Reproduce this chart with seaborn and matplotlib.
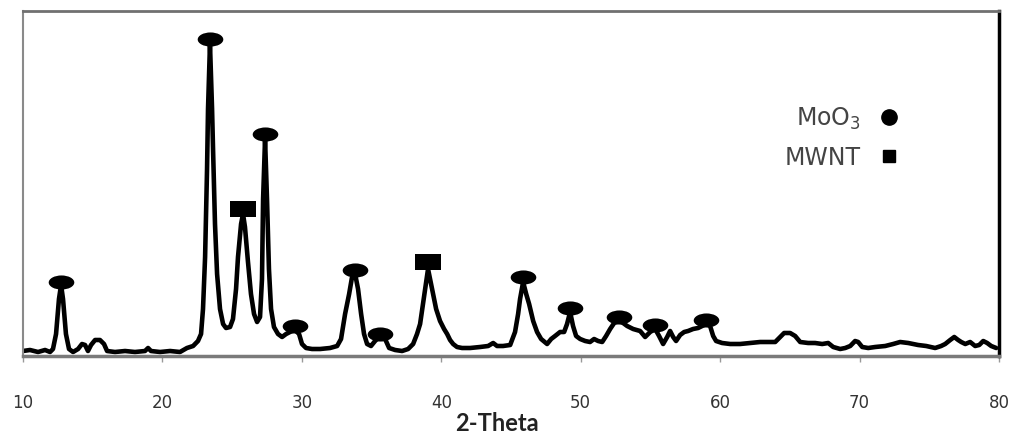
import numpy as np
import matplotlib
matplotlib.use("Agg")
import matplotlib.pyplot as plt
from matplotlib.path import Path
from matplotlib.lines import Line2D
import seaborn as sns

# XRD pattern of the MoO3 / MWNT composite (arbitrary intensity units)
two_theta = [
    10.00, 10.50, 11.08, 11.58, 11.94, 12.15, 12.37, 12.58, 12.73, 12.87,
    13.08, 13.30, 13.59, 13.95, 14.23, 14.45, 14.66, 14.88, 15.17, 15.52,
    15.81, 16.03, 16.60, 17.32, 18.03, 18.75, 18.97, 19.18, 19.83, 20.55,
    21.26, 21.76, 22.20, 22.55, 22.77, 22.91, 23.06, 23.20, 23.27, 23.41,
    23.56, 23.63, 23.77, 23.92, 24.13, 24.35, 24.56, 24.85, 25.06, 25.28,
    25.42, 25.64, 25.78, 25.92, 26.13, 26.35, 26.57, 26.79, 27.00, 27.14,
    27.22, 27.36, 27.50, 27.64, 27.79, 28.00, 28.29, 28.58, 28.87, 29.15,
    29.51, 29.80, 30.01, 30.30, 30.73, 31.31, 32.02, 32.53, 32.81, 33.10,
    33.39, 33.60, 33.82, 34.03, 34.25, 34.46, 34.68, 34.96, 35.25, 35.61,
    35.97, 36.26, 36.69, 37.19, 37.62, 37.98, 38.26, 38.48, 38.69, 38.84,
    39.05, 39.27, 39.41, 39.63, 39.91, 40.20, 40.42, 40.63, 40.85, 41.13,
    41.49, 42.07, 42.78, 43.36, 43.72, 44.00, 44.43, 44.94, 45.29, 45.51,
    45.65, 45.87, 46.09, 46.30, 46.59, 46.87, 47.16, 47.59, 47.88, 48.16,
    48.52, 48.81, 49.02, 49.24, 49.45, 49.67, 49.96, 50.32, 50.67, 50.96,
    51.25, 51.54, 51.82, 52.11, 52.40, 52.75, 53.04, 53.33, 53.76, 54.26,
    54.62, 54.98, 55.34, 55.62, 55.91, 56.20, 56.41, 56.63, 56.84, 57.13,
    57.42, 57.70, 58.06, 58.42, 58.71, 59.00, 59.28, 59.50, 59.71, 60.14,
    60.72, 61.43, 62.15, 62.87, 63.44, 63.95, 64.30, 64.59, 65.02, 65.38,
    65.74, 66.31, 66.81, 67.32, 67.75, 68.11, 68.61, 68.97, 69.33, 69.68,
    69.90, 70.19, 70.62, 71.12, 71.84, 72.41, 72.91, 73.49, 74.20, 74.78,
    75.42, 75.85, 76.14, 76.50, 76.79, 77.07, 77.29, 77.58, 77.93, 78.29,
    78.58, 78.87, 79.15, 79.44, 79.80,
]
intensity = [
    5, 6, 4, 6, 4, 7, 22, 57, 71, 57,
    22, 7, 4, 7, 12, 11, 5, 11, 16, 16,
    12, 5, 4, 5, 4, 5, 8, 5, 4, 5,
    4, 8, 10, 15, 22, 47, 99, 187, 247, 312,
    247, 207, 132, 82, 47, 32, 28, 29, 37, 67,
    99, 132, 142, 129, 95, 62, 42, 34, 39, 77,
    157, 217, 157, 87, 47, 29, 22, 19, 22, 24,
    26, 22, 12, 8, 7, 7, 8, 10, 17, 42,
    62, 79, 82, 67, 42, 22, 12, 10, 15, 20,
    17, 8, 6, 5, 7, 12, 22, 32, 52, 67,
    87, 72, 62, 47, 35, 27, 22, 16, 12, 9,
    8, 8, 9, 10, 13, 10, 10, 11, 24, 42,
    57, 74, 62, 52, 35, 24, 17, 12, 17, 20,
    24, 24, 32, 44, 30, 20, 17, 15, 14, 17,
    15, 14, 20, 27, 33, 35, 33, 30, 27, 25,
    19, 24, 27, 20, 12, 19, 25, 19, 15, 21,
    24, 25, 27, 28, 30, 32, 30, 20, 15, 13,
    12, 12, 13, 14, 14, 14, 19, 23, 23, 20,
    14, 13, 13, 12, 13, 9, 7, 8, 10, 15,
    14, 9, 8, 9, 10, 12, 14, 13, 11, 10,
    8, 10, 12, 16, 19, 16, 14, 12, 14, 10,
    11, 15, 13, 10, 8,
]

# Reflections assigned to each phase (position, marker height)
moo3_theta = [12.73, 23.41, 27.36, 29.50, 33.82, 35.61, 45.87, 49.24, 52.75, 55.34, 59.00]
moo3_level = [74, 317, 222, 30, 86, 22, 79, 48, 39, 31, 36]
mwnt_theta = [25.78, 39.05]
mwnt_level = [147, 94]

x_ticks = [10, 20, 30, 40, 50, 60, 70, 80]

sns.set_style("white")
plt.rcParams["font.family"] = ["DejaVu Sans"]

fig = plt.figure(figsize=(10.2, 4.35), dpi=100)
ax = fig.add_axes([23 / 1020, 1 - 357 / 435, 976 / 1020, 345 / 435])

sns.lineplot(x=two_theta, y=intensity, ax=ax, color="black", linewidth=3.3,
             sort=False, estimator=None)

# flattened ellipse and rectangle markers
ellipse = Path.unit_circle().transformed(matplotlib.transforms.Affine2D().scale(1.0, 0.55))
rect = Path([(-1, -0.65), (1, -0.65), (1, 0.65), (-1, 0.65), (-1, -0.65)],
            [Path.MOVETO, Path.LINETO, Path.LINETO, Path.LINETO, Path.CLOSEPOLY])

sns.scatterplot(x=moo3_theta, y=moo3_level, ax=ax, marker=ellipse, s=340,
                color="black", edgecolor="black", linewidth=0, zorder=5)
sns.scatterplot(x=mwnt_theta, y=mwnt_level, ax=ax, marker=rect, s=350,
                color="black", edgecolor="black", linewidth=0, zorder=5)

ax.set_xlim(10, 80)
ax.set_ylim(0, 345)
ax.set_yticks([])
ax.set_xticks(x_ticks)
ax.set_xticklabels([str(t) for t in x_ticks], fontsize=12, color="#333333")
ax.tick_params(axis="x", direction="out", length=4, width=1, color="#999999",
               pad=23, bottom=True)

ax.set_xlabel("2-Theta", fontfamily="Lato", fontweight="bold", fontsize=17,
              color="#222222")
ax.xaxis.set_label_coords((497 - 23) / 976, -0.16)

ax.spines["left"].set_color("#8a8a8a")
ax.spines["left"].set_linewidth(1.5)
ax.spines["top"].set_color("#707070")
ax.spines["top"].set_linewidth(2.0)
ax.spines["bottom"].set_color("#7a7a7a")
ax.spines["bottom"].set_linewidth(2.5)
ax.spines["right"].set_color("black")
ax.spines["right"].set_linewidth(2.5)

handles = [
    Line2D([], [], marker="o", ms=11, color="black", ls="none"),
    Line2D([], [], marker="s", ms=9, color="black", ls="none"),
]
leg = ax.legend(handles, ["MoO$_3$", "MWNT"], loc="upper left",
                bbox_to_anchor=((785 - 23) / 976, (357 - 106) / 345),
                markerfirst=False, frameon=False, fontsize=17,
                handlelength=0.8, handletextpad=0.78, labelspacing=0.58,
                borderpad=0, borderaxespad=0)
for t in leg.get_texts():
    t.set_color("#444444")

fig.savefig("out.png", dpi=100)
